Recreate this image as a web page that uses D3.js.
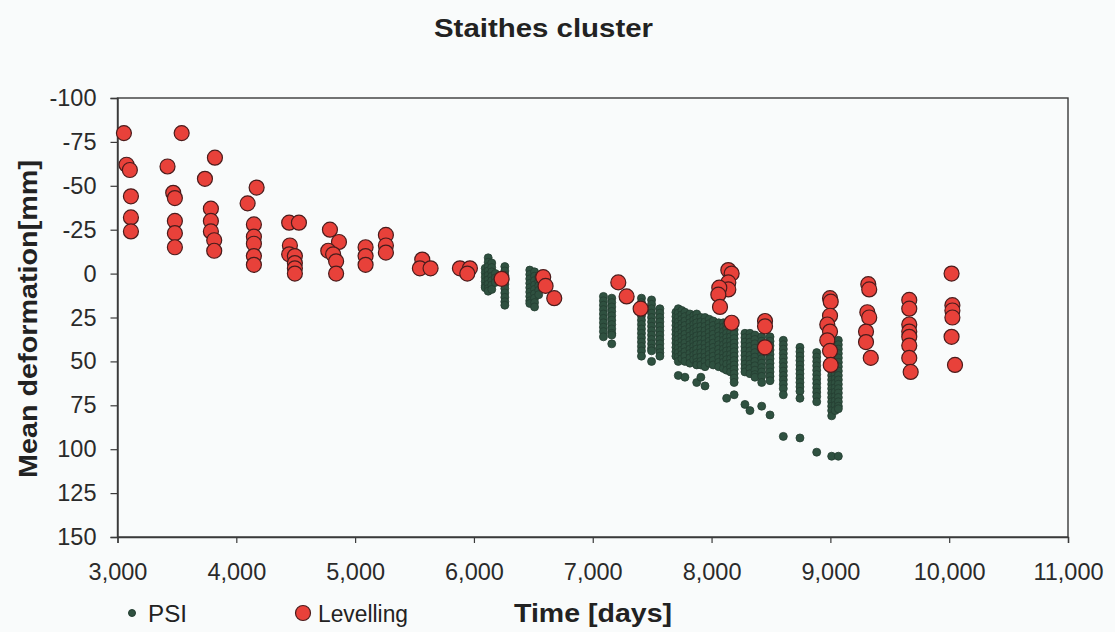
<!DOCTYPE html>
<html>
<head>
<meta charset="utf-8">
<script src="https://cdn.jsdelivr.net/npm/d3@7"></script>
<style>
  body { margin: 0; background: #f9fbfb; }
  text { font-family: "Liberation Sans", Arial, sans-serif; fill: #222; }
</style>
</head>
<body>
<div id="chart"></div>
<script>
// levelling benchmarks: [day, mean deformation mm]
const levelling = [
  [3054, -80], [3076, -62], [3104, -59], [3113, -44], [3113, -32], [3113, -24],
  [3540, -80], [3421, -61], [3469, -46], [3483, -43], [3483, -30], [3483, -23], [3483, -15],
  [3820, -66], [3736, -54], [3786, -37], [3786, -30], [3786, -24], [3814, -19], [3814, -13],
  [4171, -49], [4095, -40], [4148, -28], [4148, -21], [4148, -17], [4148, -10], [4148, -5],
  [4445, -29], [4527, -29], [4451, -16], [4445, -11], [4493, -10], [4493, -6], [4493, -3], [4493, 0],
  [4788, -25], [4864, -18], [4774, -13], [4815, -11], [4840, -7], [4840, 0],
  [5088, -15], [5088, -10], [5088, -5],
  [5259, -22], [5259, -16], [5259, -12],
  [5565, -8], [5545, -3], [5635, -3],
  [5882, -3], [5966, -3], [5944, 0],
  [6233, 3], [6583, 2], [6603, 7], [6676, 14],
  [7215, 5], [7285, 13], [7403, 20],
  [8141, -2], [8169, 0], [8141, 5], [8141, 9], [8065, 8], [8057, 12], [8071, 19], [8169, 28],
  [8450, 27], [8450, 30], [8450, 42],
  [8997, 14], [9003, 16], [8997, 24], [8974, 29], [8997, 33], [8974, 38], [8997, 44], [9003, 52],
  [9319, 6], [9327, 9], [9311, 22], [9327, 25], [9300, 33], [9300, 39], [9340, 48],
  [9664, 15], [9664, 20], [9664, 29], [9664, 33], [9664, 36], [9664, 41], [9664, 48], [9676, 56],
  [10020, 0], [10027, 18], [10027, 21], [10027, 25], [10020, 36], [10049, 52]
];

// PSI points, grouped by acquisition day (columns)
const psiDays = [6095, 6120, 6150, 6180, 6260, 6470, 6510, 6545, 7090, 7160, 7410, 7495, 7565,
  7700, 7720, 7750, 7776, 7818, 7850, 7875, 7910, 7945, 7980, 8014, 8060, 8100, 8127, 8160, 8190,
  8281, 8323, 8365, 8422, 8492, 8604, 8744, 8885, 9011, 9040, 9067];
const psiValues = [
  [-3, -0.5, 2, 4.5, 7, 8],
  [-9, -6.5, -4, -1.5, 1, 3.5, 6, 8.5, 10],
  [-6, -3.5, -1, 1.5, 4, 6.5, 9],
  [0, 2.5, 5],
  [-4, -1.5, 1, 3.5, 6, 8.5, 11, 13.5, 16, 18],
  [-2, 0.5, 3, 5.5, 8, 10.5, 13, 15.5, 17],
  [-1, 1.5, 4, 6.5, 9, 11.5, 14, 16.5, 19],
  [2, 4.5, 7, 9.5, 12],
  [13, 15.5, 18, 20.5, 23, 25.5, 28, 30.5, 33, 36],
  [14, 16.5, 19, 21.5, 24, 26.5, 29, 31.5, 34, 35, 40],
  [14, 16.5, 19, 21.5, 24, 26.5, 29, 31.5, 34, 36.5, 39, 41.5, 44, 47],
  [15, 17.5, 20, 22.5, 25, 27.5, 30, 32.5, 35, 37.5, 40, 42.5, 44, 50],
  [20, 22.5, 25, 27.5, 30, 32.5, 35, 37.5, 40, 42.5, 45, 47],
  [22, 24.5, 27, 29.5, 32, 34.5, 37, 39.5, 42, 44.5, 47],
  [20, 22.5, 25, 27.5, 30, 32.5, 35, 37.5, 40, 42.5, 45, 47.5, 50, 58],
  [21, 23.5, 26, 28.5, 31, 33.5, 36, 38.5, 41, 43.5, 46, 48.5],
  [22, 24.5, 27, 29.5, 32, 34.5, 37, 39.5, 42, 44.5, 47, 50, 59],
  [23, 25.5, 28, 30.5, 33, 35.5, 38, 40.5, 43, 45.5, 48, 51],
  [24, 26.5, 29, 31.5, 34, 36.5, 39, 41.5, 44, 46.5, 49],
  [23, 25.5, 28, 30.5, 33, 35.5, 38, 40.5, 43, 45.5, 48, 50.5, 52, 62],
  [25, 27.5, 30, 32.5, 35, 37.5, 40, 42.5, 45, 47.5, 50, 52, 59],
  [25, 27.5, 30, 32.5, 35, 37.5, 40, 42.5, 45, 47.5, 50, 53, 64],
  [26, 28.5, 31, 33.5, 36, 38.5, 41, 43.5, 46, 48.5, 51],
  [27, 29.5, 32, 34.5, 37, 39.5, 42, 44.5, 47, 49.5, 52],
  [28, 30.5, 33, 35.5, 38, 40.5, 43, 45.5, 48, 50.5, 53],
  [28, 30.5, 33, 35.5, 38, 40.5, 43, 45.5, 48, 50.5, 54],
  [29, 31.5, 34, 36.5, 39, 41.5, 44, 46.5, 49, 51.5, 55, 71],
  [31, 33.5, 36, 38.5, 41, 43.5, 46, 48.5, 51, 53.5, 56],
  [32, 34.5, 37, 39.5, 42, 44.5, 47, 49.5, 52, 54.5, 57, 59.5, 62, 69],
  [34, 36.5, 39, 41.5, 44, 46.5, 49, 51.5, 54, 56, 74.5],
  [34, 36.5, 39, 41.5, 44, 46.5, 49, 51.5, 54, 57, 78],
  [35, 37.5, 40, 42.5, 45, 47.5, 50, 52.5, 55, 57.5, 59],
  [36, 38.5, 41, 43.5, 46, 48.5, 51, 53.5, 56, 58.5, 62, 75.5],
  [36, 38.5, 41, 43.5, 46, 48.5, 51, 53.5, 56, 58.5, 61, 80.5],
  [38, 40.5, 43, 45.5, 48, 50.5, 53, 55.5, 58, 60.5, 63, 65.5, 69, 92.7],
  [42, 44.5, 47, 49.5, 52, 54.5, 57, 59.5, 62, 64.5, 67, 71, 93.6],
  [45, 47.5, 50, 52.5, 55, 57.5, 60, 62.5, 65, 67.5, 70, 73, 101.7],
  [38, 40.5, 43, 45.5, 48, 50.5, 53, 55.5, 58, 60.5, 63, 65.5, 68, 70.5, 73, 75.5, 78, 81, 104],
  [40, 42.5, 45, 47.5, 50, 52.5, 55, 57.5, 60, 62.5, 65, 67.5, 70, 72.5, 75, 78],
  [38, 40.5, 43, 45.5, 48, 50.5, 53, 55.5, 58, 60.5, 63, 65.5, 68, 70.5, 73, 75.5, 77, 104]
];

const xTicks = [3000, 4000, 5000, 6000, 7000, 8000, 9000, 10000, 11000];
const yTicks = [-100, -75, -50, -25, 0, 25, 50, 75, 100, 125, 150];

const w = 1115;
const h = 632;
const plotLeft = 117.5, plotRight = 1068, plotTop = 98, plotBottom = 537;

const svg = d3.select('#chart')
      .append('svg')
      .attr('width', w)
      .attr('height', h);

const x = d3.scaleLinear().domain([3000, 11000]).range([plotLeft, plotRight]);
const y = d3.scaleLinear().domain([-100, 150]).range([plotTop, plotBottom]);

// stretch a text to the width measured on the picture
const fit = (sel, len) => sel.attr('textLength', len).attr('lengthAdjust', 'spacingAndGlyphs');

//plot frame
svg.append('rect')
      .attr('x', plotLeft)
      .attr('y', plotTop)
      .attr('width', plotRight - plotLeft)
      .attr('height', plotBottom - plotTop)
      .style('fill', 'none')
      .style('stroke', '#3a3a3a')
      .style('stroke-width', 1.4);

//axes
const xAxis = svg.append('g')
      .attr('transform', `translate(0,${plotBottom})`)
      .call(d3.axisBottom(x).tickValues(xTicks).tickSize(6).tickPadding(20)
            .tickFormat(d3.format(',')));
const yAxis = svg.append('g')
      .attr('transform', `translate(${plotLeft},0)`)
      .call(d3.axisLeft(y).tickValues(yTicks).tickSize(7).tickPadding(14)
            .tickFormat((d) => d < 0 ? '-' + Math.abs(d) : d));

[xAxis, yAxis].forEach((a) => {
  a.select('.domain').style('stroke', '#3a3a3a').style('stroke-width', 1.4);
  a.selectAll('.tick line').style('stroke', '#3a3a3a').style('stroke-width', 1.2);
  a.selectAll('.tick text')
        .style('font-family', '"Liberation Sans", Arial, sans-serif')
        .style('font-size', '23.5px')
        .style('fill', '#2a2a2a');
});

//PSI points
const psiPoints = [];
psiDays.forEach((d, i) => psiValues[i].forEach((v) => psiPoints.push([d, v])));

svg.append('g').selectAll('circle')
      .data(psiPoints)
      .enter()
      .append('circle')
      .attr('cx', (d) => x(d[0]))
      .attr('cy', (d) => y(d[1]))
      .attr('r', 4)
      .style('fill', '#2f5140')
      .style('stroke', '#243d31')
      .style('stroke-width', 0.8);

//levelling points
svg.append('g').selectAll('circle')
      .data(levelling)
      .enter()
      .append('circle')
      .attr('cx', (d) => x(d[0]))
      .attr('cy', (d) => y(d[1]))
      .attr('r', 7.5)
      .style('fill', '#e8413a')
      .style('stroke', '#4a1c1c')
      .style('stroke-width', 1.2);

//titles
svg.append('text')
      .attr('x', 434)
      .attr('y', 37)
      .style('font-size', '26px')
      .style('font-weight', 'bold')
      .text('Staithes cluster')
      .call(fit, 219);

svg.append('text')
      .attr('transform', 'translate(37,478) rotate(-90)')
      .style('font-size', '26px')
      .style('font-weight', 'bold')
      .text('Mean deformation[mm]')
      .call(fit, 318);

svg.append('text')
      .attr('x', 514)
      .attr('y', 622)
      .style('font-size', '26px')
      .style('font-weight', 'bold')
      .text('Time [days]')
      .call(fit, 158);

//legend
svg.append('circle')
      .attr('cx', 132).attr('cy', 613).attr('r', 3.5)
      .style('fill', '#2f5140').style('stroke', '#243d31');
svg.append('text')
      .attr('x', 148).attr('y', 622)
      .style('font-size', '23px')
      .text('PSI')
      .call(fit, 39);
svg.append('circle')
      .attr('cx', 303).attr('cy', 613).attr('r', 7.5)
      .style('fill', '#e8413a').style('stroke', '#4a1c1c').style('stroke-width', 1.2);
svg.append('text')
      .attr('x', 318).attr('y', 622)
      .style('font-size', '23px')
      .text('Levelling')
      .call(fit, 90);
</script>
</body>
</html>
